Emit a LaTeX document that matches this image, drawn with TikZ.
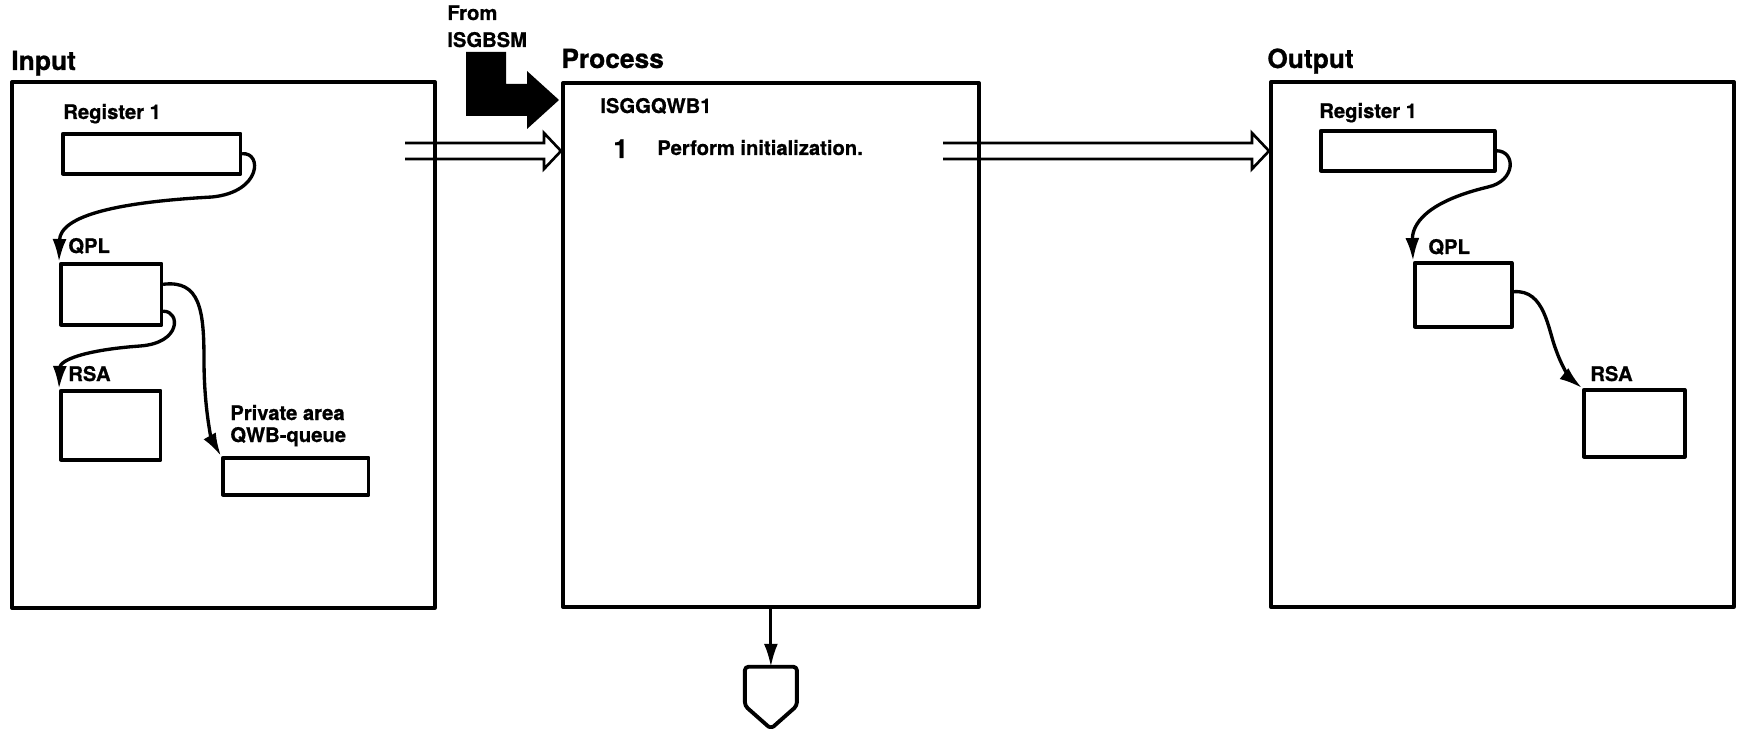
\documentclass[tikz,border=0pt]{standalone}
\usepackage{fontspec}
\setmainfont{TeX Gyre Heros}[BoldFeatures={FakeBold=0.8}]
\usetikzlibrary{arrows.meta,calc}

\newcommand{\widearrow}[2]{%
  \draw[line width=1.5pt,line join=miter,line cap=butt]
    ($(#1)+(0,-8)$) -- ($(#2)+(-17,-8)$) -- ($(#2)+(-17,-18)$) -- (#2)
    -- ($(#2)+(-17,18)$) -- ($(#2)+(-17,8)$) -- ($(#1)+(0,8)$);}

\begin{document}
\begin{tikzpicture}[x=0.02cm,y=-0.02cm,line cap=round,line join=round,
  >={Latex[length=0.46cm,width=0.28cm]},
  heading/.style={anchor=base west,inner sep=0pt,font=\fontsize{15}{17}\selectfont\bfseries},
  tag/.style={anchor=base west,inner sep=0pt,font=\fontsize{11.5}{13}\selectfont\bfseries},
  panel/.style={draw,line width=2.2pt,anchor=north west,inner sep=0pt},
  field/.style={draw,line width=2pt,anchor=north west,inner sep=0pt},
  link/.style={->,line width=1.9pt}]
  \useasboundingbox (0,0) rectangle (1740,729);

  \node[heading] (inhead) at (11,70) {Input};
  \node[panel,minimum width=8.46cm,minimum height=10.52cm] (input) at (10,80) {};
  \node[tag] (inregtag) at (63,119) {Register 1};
  \node[field,minimum width=3.56cm,minimum height=0.8cm] (inreg) at (61,132) {};
  \node[tag] (inqpltag) at (68,253) {QPL};
  \node[field,minimum width=2.02cm,minimum height=1.22cm] (inqpl) at (59,262) {};
  \node[tag] (inrsatag) at (68,381) {RSA};
  \node[field,minimum width=2.0cm,minimum height=1.38cm] (inrsa) at (59,389) {};
  \node[tag] (inprivtag) at (230,420) {Private area};
  \node[tag] (inqwbtag) at (230,442) {QWB-queue};
  \node[field,minimum width=2.92cm,minimum height=0.74cm] (inpriv) at (221,456) {};

  \draw[link] (inreg.east) .. controls (262,152) and (262,192) .. (212,197)
    .. controls (120,202) and (60,215) .. (inqpl.north west);
  \draw[link] ($(inqpl.east)+(0,17)$) .. controls (180,311) and (182,343) .. (140,346)
    .. controls (85,350) and (60,360) .. (inrsa.north west);
  \draw[link] ($(inqpl.east)+(0,-10)$) .. controls (200,280) and (204,310) .. (204,360)
    .. controls (204,410) and (212,440) .. (inpriv.north west);

  \node[tag] (fromtag) at (447,20) {From};
  \node[tag] (calltag) at (447,47) {ISGBSM};
  \fill (466,52) -- (506,52) -- (506,84) -- (527,84) -- (527,71) -- (559,100)
    -- (527,129) -- (527,116) -- (466,116) -- cycle;

  \node[heading] (prochead) at (561,68) {Process};
  \node[panel,minimum width=8.32cm,minimum height=10.48cm] (process) at (561,81) {};
  \node[tag] (modtag) at (600,113) {ISGGQWB1};
  \node[heading] (stepnum) at (613,158) {1};
  \node[tag] (steptext) at (657,155) {Perform initialization.};

  \coordinate (inTail) at (405,151);
  \coordinate (inHead) at (process.west |- inTail);
  \widearrow{inTail}{inHead}

  \node[heading] (outhead) at (1267,68) {Output};
  \node[panel,minimum width=9.26cm,minimum height=10.5cm] (output) at (1269,80) {};
  \node[tag] (outregtag) at (1319,118) {Register 1};
  \node[field,minimum width=3.48cm,minimum height=0.8cm] (outreg) at (1319,129) {};
  \node[tag] (outqpltag) at (1428,254) {QPL};
  \node[field,minimum width=1.94cm,minimum height=1.28cm] (outqpl) at (1413,261) {};
  \node[tag] (outrsatag) at (1590,381) {RSA};
  \node[field,minimum width=2.02cm,minimum height=1.34cm] (outrsa) at (1582,388) {};

  \draw[link] (outreg.east) .. controls (1516,151) and (1516,181) .. (1488,187)
    .. controls (1425,202) and (1412,225) .. (outqpl.north west);
  \draw[link] ($(outqpl.east)+(0,-3)$) .. controls (1545,289) and (1548,330) .. (1556,350)
    .. controls (1563,370) and (1572,380) .. (outrsa.north west);

  \coordinate (outTail) at (943,151);
  \coordinate (outHead) at (output.west |- outTail);
  \widearrow{outTail}{outHead}

  \coordinate (offtop) at ($(process.south)+(0,58)$);
  \draw[->,line width=1.6pt] (process.south) -- (offtop);
  \draw[line width=2.2pt,rounded corners=2pt] ($(offtop)+(-26,0)$) -- ($(offtop)+(26,0)$)
    -- ($(offtop)+(26,39)$) -- ($(offtop)+(0,62)$) -- ($(offtop)+(-26,39)$) -- cycle;
\end{tikzpicture}
\end{document}
